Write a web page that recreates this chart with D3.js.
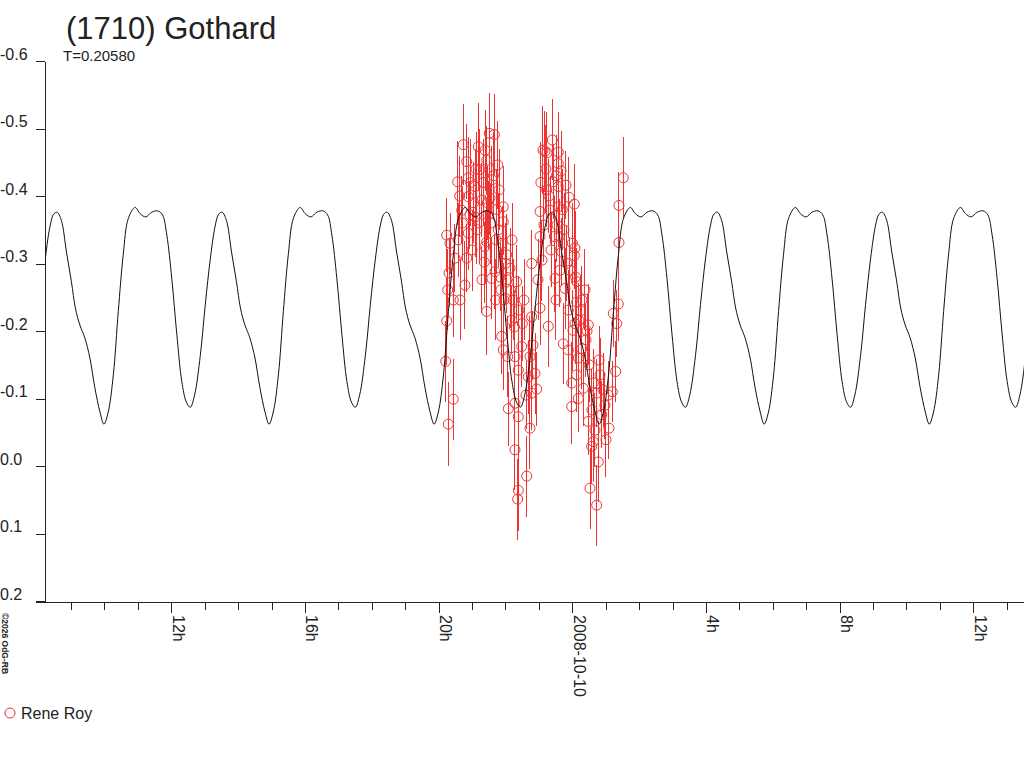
<!DOCTYPE html>
<html>
<head>
<meta charset="utf-8">
<title>(1710) Gothard</title>
<script src="https://cdn.jsdelivr.net/npm/d3@7"></script>
<style>
	body { margin: 0; background: #fff; }
	svg { display: block; font-family: "Liberation Sans", Arial, sans-serif; }
	.obs { stroke: #ee3333; fill: none; stroke-width: 1; }
	line.obs { shape-rendering: crispEdges; }
	.model { stroke: #111; fill: none; stroke-width: 1; }
	.axis path, .axis line { stroke: #222; shape-rendering: crispEdges; }
	.axis text { fill: #222; font-size: 16px; font-family: "Liberation Sans", Arial, sans-serif; }
</style>
</head>
<body>
<svg id="lightcurve" width="1024" height="768"></svg>
<script>

function whenDocumentLoaded(action) {
	if (document.readyState === "loading") {
		document.addEventListener("DOMContentLoaded", action);
	} else {
		action();
	}
}

const TITLE = '(1710) Gothard';
const PERIOD_DAYS = 0.20580;
const OBSERVER = 'Rene Roy';
const CREDIT = '\u00a92026 OdG-RB';

// hours since 2008-10-09 00:00 UT
const X_DOMAIN = [8.222, 37.516];
const Y_DOMAIN = [-0.6, 0.2];
const Y_TICKS = [-0.6, -0.5, -0.4, -0.3, -0.2, -0.1, 0.0, 0.1, 0.2];

// Rene Roy observations (hours since 2008-10-09 00:00 UT, magnitude, error)
const OBS_TIME = [
	20.212, 20.242, 20.242, 20.272, 20.290, 20.311, 20.341, 20.439, 20.439, 20.490,
	20.571, 20.580, 20.640, 20.691, 20.738, 20.789, 20.840, 20.840, 20.888, 20.888,
	20.888, 20.939, 20.999, 21.089, 21.089, 21.148, 21.187, 21.238, 21.289, 21.298,
	21.367, 21.388, 21.388, 21.439, 21.439, 21.439, 21.478, 21.516, 21.537, 21.588,
	21.597, 21.666, 21.687, 21.708, 21.717, 21.768, 21.786, 21.807, 21.837, 21.867,
	21.887, 21.935, 21.935, 21.935, 21.956, 22.037, 22.046, 22.067, 22.085, 22.136,
	22.187, 22.196, 22.226, 22.265, 22.285, 22.285, 22.285, 22.336, 22.366, 22.384,
	22.384, 22.384, 22.405, 22.486, 22.504, 22.555, 22.615, 22.636, 22.683, 22.734,
	22.734, 22.785, 22.785, 22.785, 22.824, 22.884, 22.935, 22.974, 23.034, 23.034,
	23.034, 23.093, 23.123, 23.153, 23.183, 23.234, 23.243, 23.282, 23.333, 23.363,
	23.402, 23.431, 23.461, 23.482, 23.512, 23.542, 23.581, 23.581, 23.581, 23.581,
	23.632, 23.662, 23.683, 23.731, 23.752, 23.782, 23.811, 23.880, 23.880, 23.901,
	23.931, 23.982, 23.982, 24.021, 24.060, 24.060, 24.081, 24.081, 24.132, 24.132,
	24.132, 24.180, 24.180, 24.200, 24.281, 24.290, 24.329, 24.380, 24.410, 24.479,
	24.479, 24.500, 24.530, 24.580, 24.589, 24.628, 24.628, 24.679, 24.730, 24.730,
	24.778, 24.799, 24.829, 24.880, 24.919, 24.978, 25.008, 25.077, 25.098, 25.197,
	25.227, 25.299, 25.329, 25.376, 25.397, 25.397, 25.526,
	20.630, 20.710, 20.960, 21.050, 21.120, 21.210, 21.330, 21.460, 21.560, 21.640,
	21.740, 21.900, 22.000, 22.160, 23.060, 23.210, 23.300, 23.520, 23.610, 23.700,
	23.840, 24.000, 24.100, 24.250, 24.440
];
const OBS_MAG = [
	-0.155, -0.215, -0.342, -0.261, -0.062, -0.286, -0.330, -0.099, -0.246, -0.308,
	-0.421, -0.335, -0.246, -0.379, -0.476, -0.268, -0.451, -0.308, -0.427, -0.399,
	-0.345, -0.372, -0.320, -0.414, -0.369, -0.350, -0.473, -0.439, -0.394, -0.276,
	-0.302, -0.468, -0.325, -0.453, -0.332, -0.229, -0.372, -0.493, -0.397, -0.278,
	-0.424, -0.491, -0.288, -0.246, -0.335, -0.446, -0.350, -0.409, -0.280, -0.261,
	-0.192, -0.384, -0.362, -0.172, -0.246, -0.313, -0.276, -0.162, -0.085, -0.293,
	-0.216, -0.335, -0.246, -0.206, -0.162, -0.093, -0.024, -0.273, 0.049, -0.142,
	-0.073, 0.036, -0.231, -0.177, -0.211, -0.246, -0.105, 0.015, -0.132, -0.162,
	-0.056, -0.300, -0.108, -0.221, -0.179, -0.137, -0.114, -0.276, -0.234, -0.340,
	-0.377, -0.305, -0.468, -0.357, -0.466, -0.409, -0.464, -0.207, -0.379, -0.320,
	-0.483, -0.421, -0.340, -0.278, -0.246, -0.357, -0.465, -0.448, -0.414, -0.384,
	-0.290, -0.437, -0.317, -0.181, -0.350, -0.263, -0.416, -0.231, -0.172, -0.398,
	-0.290, -0.123, -0.088, -0.201, -0.388, -0.312, -0.323, -0.211, -0.273, -0.243,
	-0.135, -0.160, -0.100, -0.216, -0.174, -0.246, -0.115, -0.261, -0.187, -0.209,
	-0.066, -0.150, 0.033, -0.029, -0.083, -0.123, -0.036, -0.053, -0.108, 0.058,
	-0.006, -0.157, -0.135, -0.076, -0.113, -0.090, -0.039, -0.105, -0.056, -0.110,
	-0.226, -0.140, -0.211, -0.240, -0.331, -0.386, -0.427,
	-0.400, -0.360, -0.420, -0.390, -0.440, -0.360, -0.420, -0.390, -0.360, -0.430,
	-0.380, -0.330, -0.300, -0.260, -0.420, -0.440, -0.400, -0.430, -0.340, -0.380,
	-0.300, -0.330, -0.280, -0.230, -0.200
];
const OBS_ERR = [
	0.060, 0.065, 0.055, 0.060, 0.062, 0.050, 0.045, 0.060, 0.055, 0.050,
	0.060, 0.055, 0.060, 0.050, 0.060, 0.065, 0.055, 0.050, 0.060, 0.045,
	0.055, 0.050, 0.060, 0.055, 0.060, 0.050, 0.065, 0.060, 0.055, 0.050,
	0.060, 0.060, 0.055, 0.050, 0.060, 0.065, 0.050, 0.060, 0.055, 0.060,
	0.050, 0.060, 0.055, 0.060, 0.050, 0.065, 0.055, 0.060, 0.050, 0.060,
	0.055, 0.060, 0.050, 0.060, 0.055, 0.060, 0.050, 0.060, 0.055, 0.060,
	0.050, 0.055, 0.060, 0.055, 0.060, 0.050, 0.060, 0.055, 0.060, 0.065,
	0.055, 0.060, 0.050, 0.060, 0.055, 0.060, 0.050, 0.060, 0.055, 0.060,
	0.060, 0.050, 0.055, 0.060, 0.050, 0.060, 0.055, 0.060, 0.055, 0.060,
	0.050, 0.060, 0.065, 0.055, 0.060, 0.055, 0.060, 0.060, 0.050, 0.055,
	0.060, 0.055, 0.060, 0.050, 0.060, 0.055, 0.060, 0.050, 0.055, 0.060,
	0.055, 0.060, 0.050, 0.060, 0.055, 0.060, 0.050, 0.060, 0.055, 0.060,
	0.050, 0.060, 0.055, 0.060, 0.060, 0.050, 0.055, 0.060, 0.050, 0.060,
	0.055, 0.060, 0.050, 0.055, 0.060, 0.050, 0.055, 0.060, 0.055, 0.060,
	0.050, 0.055, 0.060, 0.055, 0.060, 0.050, 0.060, 0.055, 0.050, 0.060,
	0.060, 0.050, 0.055, 0.050, 0.055, 0.050, 0.055, 0.050, 0.045, 0.045,
	0.050, 0.045, 0.050, 0.055, 0.055, 0.050, 0.060,
	0.060, 0.055, 0.065, 0.060, 0.055, 0.060, 0.065, 0.055, 0.060, 0.065,
	0.060, 0.055, 0.060, 0.055, 0.060, 0.065, 0.055, 0.060, 0.055, 0.060,
	0.055, 0.060, 0.055, 0.050, 0.055
];

// model lightcurve, one rotation (phase from the single maximum)
const MODEL_EPOCH = 23.40;
const MODEL_PHASE = [
	0.000, 0.026, 0.057, 0.087, 0.111, 0.138, 0.168, 0.199, 0.229, 0.260,
	0.284, 0.310, 0.341, 0.371, 0.401, 0.432, 0.473, 0.503, 0.537, 0.574,
	0.610, 0.639, 0.665, 0.695, 0.726, 0.756, 0.783, 0.807, 0.833, 0.868,
	0.898, 0.929, 0.959, 0.979
];
const MODEL_MAG = [
	-0.376, -0.364, -0.317, -0.273, -0.234, -0.209, -0.190, -0.160, -0.116, -0.080,
	-0.062, -0.080, -0.135, -0.229, -0.313, -0.367, -0.383, -0.374, -0.369, -0.376,
	-0.378, -0.372, -0.342, -0.278, -0.194, -0.125, -0.095, -0.087, -0.105, -0.164,
	-0.239, -0.308, -0.357, -0.373
];

const DAY0 = Date.UTC(2008, 9, 9);
const toDate = (h) => new Date(DAY0 + h * 3600e3);

class LightcurvePlot {
	constructor(svgId, obs, model) {
		this.svg = d3.select(`#${svgId}`);
		this.obs = obs;
		this.model = model;
		this.scale = {};
		this.scale.x = d3.scaleUtc()
			.domain(X_DOMAIN.map(toDate))
			.range([45, 1024]);
		this.scale.y = d3.scaleLinear()
			.domain(Y_DOMAIN)
			.range([61, 601]);
	}

	show() {
		const x = this.scale.x;
		const y = this.scale.y;
		const svg = this.svg;

		// axes
		const yAxis = d3.axisLeft(y)
			.tickValues(Y_TICKS)
			.tickSize(9)
			.tickSizeOuter(0)
			.tickFormat((d) => d.toFixed(1));
		const gy = svg.append("g")
			.attr("class", "axis")
			.attr("transform", "translate(45,0)")
			.call(yAxis);
		gy.selectAll(".tick text")
			.attr("text-anchor", "start")
			.attr("x", -45)
			.attr("dy", "-2");

		const hours = d3.utcHour.range(x.domain()[0], x.domain()[1]);
		const xAxis = d3.axisBottom(x)
			.tickValues(hours)
			.tickSize(8)
			.tickSizeOuter(0)
			.tickFormat((d) => {
				const h = d.getUTCHours();
				if (h % 4 !== 0) return "";
				return h === 0 ? d3.utcFormat("%Y-%m-%d")(d) : `${h}h`;
			});
		const gx = svg.append("g")
			.attr("class", "axis")
			.attr("transform", "translate(0,602)")
			.call(xAxis);
		gx.select(".domain").remove();
		gx.append("line")
			.attr("x1", 36).attr("x2", 1024)
			.attr("stroke", "#222");
		gx.selectAll(".tick")
			.filter((d) => d.getUTCHours() % 4 === 0)
			.select("line")
			.attr("y2", 11);
		gx.selectAll(".tick text")
			.attr("text-anchor", "start")
			.attr("x", 0).attr("y", 0).attr("dy", 0)
			.attr("transform", "translate(1,13) rotate(90)");

		// clip
		svg.append("clipPath").attr("id", "plot-clip")
			.append("rect").attr("x", 45).attr("y", 0).attr("width", 979).attr("height", 602);

		// observations
		const g = svg.append("g").attr("clip-path", "url(#plot-clip)");
		g.selectAll("line.obs")
			.data(this.obs)
			.enter()
			.append("line")
			.attr("class", "obs")
			.attr("x1", (d) => x(toDate(d.t)))
			.attr("x2", (d) => x(toDate(d.t)))
			.attr("y1", (d) => y(d.mag - d.err))
			.attr("y2", (d) => y(d.mag + d.err));
		g.selectAll("circle.obs")
			.data(this.obs)
			.enter()
			.append("circle")
			.attr("class", "obs")
			.attr("cx", (d) => x(toDate(d.t)))
			.attr("cy", (d) => y(d.mag))
			.attr("r", 5);

		// model curve
		const line = d3.line()
			.x((d) => x(toDate(d.t)))
			.y((d) => y(d.mag))
			.curve(d3.curveCatmullRom.alpha(0.5));
		g.append("path")
			.datum(this.model)
			.attr("class", "model")
			.attr("d", line);

		// texts
		svg.append("text")
			.attr("x", 66).attr("y", 39)
			.attr("font-size", 31)
			.attr("fill", "#222")
			.text(TITLE);
		svg.append("text")
			.attr("x", 63).attr("y", 61)
			.attr("font-size", 15)
			.attr("fill", "#222")
			.text(`T=${PERIOD_DAYS.toFixed(5)}`);
		svg.append("text")
			.attr("transform", "translate(2,613) rotate(90)")
			.attr("font-size", 8.5)
			.attr("font-weight", "bold")
			.attr("fill", "#222")
			.text(CREDIT);

		// legend
		svg.append("circle")
			.attr("class", "obs")
			.attr("cx", 10).attr("cy", 713).attr("r", 5);
		svg.append("text")
			.attr("x", 21).attr("y", 719)
			.attr("font-size", 16)
			.attr("fill", "#222")
			.text(OBSERVER);
	}
}

whenDocumentLoaded(() => {
	const obs = OBS_TIME.map((t, i) => ({ t: t, mag: OBS_MAG[i], err: OBS_ERR[i] }));

	// repeat the single rotation over the whole time span
	const periodH = PERIOD_DAYS * 24;
	const model = [];
	for (let k = -4; k <= 3; k++) {
		MODEL_PHASE.forEach((p, i) => {
			const t = MODEL_EPOCH + (k + p) * periodH;
			if (t >= X_DOMAIN[0] - periodH * 0.1 && t <= X_DOMAIN[1] + periodH * 0.1) {
				model.push({ t: t, mag: MODEL_MAG[i] });
			}
		});
	}

	const plot = new LightcurvePlot('lightcurve', obs, model);
	plot.show();
});
</script>
</body>
</html>
